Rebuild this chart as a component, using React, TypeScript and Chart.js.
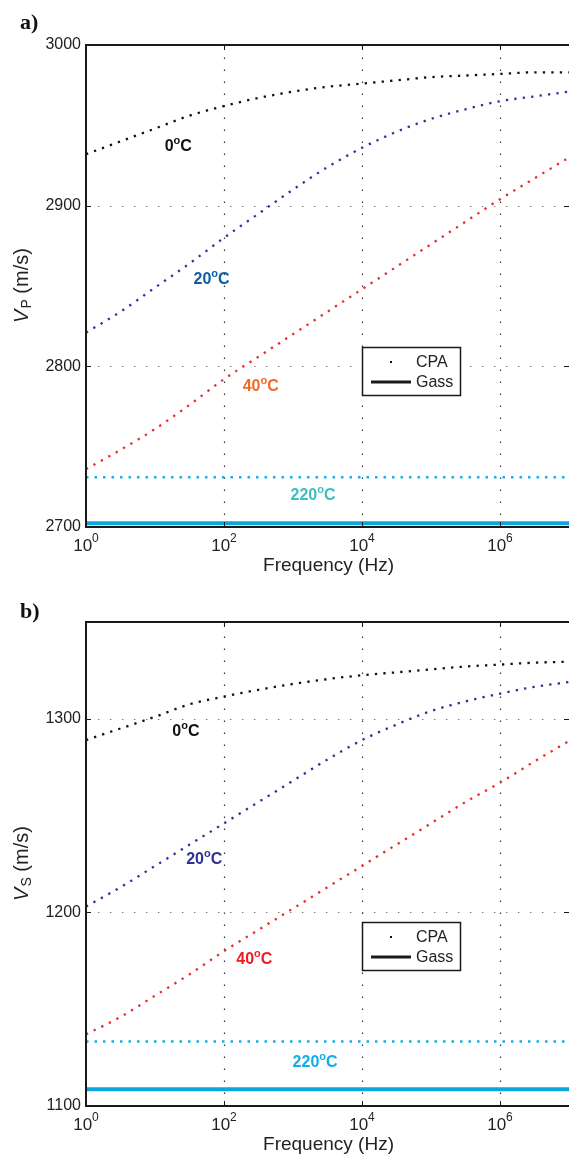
import { useEffect, useRef } from 'react';
import { Chart, registerables } from 'chart.js';

Chart.register(...registerables);

// ---------- data ----------
const FREQ_HZ = [1, 3.16, 10, 31.6, 100, 316, 1000, 3160, 1e4, 3.16e4, 1e5, 3.16e5, 1e6, 3.16e6, 1e7];
const FREQ_ENDS = [1, 1e7];
const X_TICKS = [1, 100, 1e4, 1e6];
const X_TICK_EXPONENTS = ['0', '2', '4', '6'];

// Panel a) P-wave velocity (m/s)
const VP_CPA_0C = [2932, 2940, 2948, 2956, 2962, 2967, 2971, 2974, 2976, 2978, 2980, 2981, 2982, 2983, 2983];
const VP_CPA_20C = [2821, 2834, 2849, 2864, 2880, 2895, 2910, 2924, 2936, 2946, 2954, 2960, 2965, 2968, 2971];
const VP_CPA_40C = [2736, 2748, 2761, 2776, 2792, 2806, 2820, 2834, 2848, 2862, 2876, 2890, 2904, 2917, 2930];
const VP_CPA_220C = [2731, 2731];
const VP_GASS_220C = [2702.3, 2702.3];
const VP_TICKS = [2700, 2800, 2900, 3000];

// Panel b) S-wave velocity (m/s)
const VS_CPA_0C = [1289, 1295, 1301, 1307.5, 1311.5, 1315, 1318, 1320.5, 1322.5, 1324, 1325.5, 1327, 1328, 1329, 1329.5];
const VS_CPA_20C = [1203, 1213, 1224, 1235, 1246, 1257, 1268, 1279, 1289, 1297, 1304, 1309, 1313, 1316.5, 1319];
const VS_CPA_40C = [1137, 1146, 1157, 1168, 1180, 1191, 1202, 1213, 1224, 1235, 1246, 1257, 1267, 1278, 1288.5];
const VS_CPA_220C = [1133.3, 1133.3];
const VS_GASS_220C = [1108.6, 1108.6];
const VS_TICKS = [1100, 1200, 1300];

const TEMP_LABELS = ['0', '20', '40', '220'];
// label anchor positions (frequency, velocity)
const VP_LABEL_FREQ = [21.7, 66, 341, 1950];
const VP_LABEL_VEL = [2936.7, 2853.8, 2787.3, 2719.3];
const VS_LABEL_FREQ = [28, 51.7, 275, 2090];
const VS_LABEL_VEL = [1293.2, 1227.1, 1175.5, 1122.2];

const LEGEND_LABELS = ['CPA', 'Gass'];

// ---------- styling ----------
const SANS = '"Liberation Sans", Arial, Helvetica, sans-serif';
const SERIF = '"Liberation Serif", "Times New Roman", serif';
const W = 569;
const H = 577;

type PanelDef = {
  letter: string;
  sub: string;
  yMin: number;
  yMax: number;
  yTicks: number[];
  cpa: number[][];
  cpa220: number[];
  gass220: number[];
  curveColors: string[];
  labelFreq: number[];
  labelVel: number[];
  labelColors: string[];
  letterY: number;
  xAxisHeight: number;
  legendTop: number;
};

const PANELS: PanelDef[] = [
  {
    letter: 'a)',
    sub: 'P',
    yMin: 2700,
    yMax: 3000,
    yTicks: VP_TICKS,
    cpa: [VP_CPA_0C, VP_CPA_20C, VP_CPA_40C],
    cpa220: VP_CPA_220C,
    gass220: VP_GASS_220C,
    curveColors: ['#111111', '#34339a', '#ee2a2a'],
    labelFreq: VP_LABEL_FREQ,
    labelVel: VP_LABEL_VEL,
    labelColors: ['#111111', '#0b5fa8', '#f26a2a', '#3cc0c0'],
    letterY: 23,
    xAxisHeight: 50,
    legendTop: 347,
  },
  {
    letter: 'b)',
    sub: 'S',
    yMin: 1100,
    yMax: 1350,
    yTicks: VS_TICKS,
    cpa: [VS_CPA_0C, VS_CPA_20C, VS_CPA_40C],
    cpa220: VS_CPA_220C,
    gass220: VS_GASS_220C,
    curveColors: ['#111111', '#2e3192', '#ee2a2a'],
    labelFreq: VS_LABEL_FREQ,
    labelVel: VS_LABEL_VEL,
    labelColors: ['#111111', '#2e3192', '#ee1c25', '#12aee8'],
    letterY: 35,
    xAxisHeight: 48,
    legendTop: 345,
  },
];

function drawSupText(
  ctx: CanvasRenderingContext2D,
  cx: number,
  cy: number,
  base: string,
  sup: string,
  tail: string,
  size: number,
  supSize: number,
  weight: string,
  color: string,
  raise: number
) {
  ctx.save();
  ctx.fillStyle = color;
  ctx.textBaseline = 'middle';
  ctx.textAlign = 'left';
  const f1 = `${weight} ${size}px ${SANS}`;
  const f2 = `${weight} ${supSize}px ${SANS}`;
  ctx.font = f1;
  const w1 = ctx.measureText(base).width;
  const w3 = ctx.measureText(tail).width;
  ctx.font = f2;
  const w2 = ctx.measureText(sup).width;
  let x = cx - (w1 + w2 + w3) / 2;
  ctx.font = f1;
  ctx.fillText(base, x, cy);
  x += w1;
  ctx.font = f2;
  ctx.fillText(sup, x, cy - raise);
  x += w2;
  ctx.font = f1;
  if (tail) ctx.fillText(tail, x, cy);
  ctx.restore();
}

function makeDecor(p: PanelDef) {
  return {
    id: 'decor' + p.sub,
    beforeDatasetsDraw(chart: any) {
      const { ctx, chartArea: a, scales } = chart;
      const xs = scales.x;
      const ys = scales.y;
      ctx.save();
      ctx.strokeStyle = '#333';
      ctx.lineWidth = 1.2;
      ctx.setLineDash([1.4, 10.6]);
      X_TICKS.forEach((v) => {
        if (v === 1) return;
        const x = Math.round(xs.getPixelForValue(v)) + 0.5;
        ctx.beginPath();
        ctx.moveTo(x, a.bottom);
        ctx.lineTo(x, a.top);
        ctx.stroke();
      });
      ctx.strokeStyle = '#777';
      ctx.lineWidth = 1;
      p.yTicks.forEach((v) => {
        if (v === p.yMin || v === p.yMax) return;
        const y = Math.round(ys.getPixelForValue(v)) + 0.5;
        ctx.beginPath();
        ctx.moveTo(a.left, y);
        ctx.lineTo(a.right, y);
        ctx.stroke();
      });
      ctx.restore();
    },
    afterDatasetsDraw(chart: any) {
      const { ctx, chartArea: a, scales } = chart;
      const xs = scales.x;
      const ys = scales.y;
      ctx.save();
      // axes box
      ctx.strokeStyle = '#1a1a1a';
      ctx.lineWidth = 2;
      ctx.beginPath();
      ctx.moveTo(a.right + 2, a.top);
      ctx.lineTo(a.left, a.top);
      ctx.lineTo(a.left, a.bottom);
      ctx.lineTo(a.right + 2, a.bottom);
      ctx.stroke();
      // tick marks (inside)
      ctx.lineWidth = 1;
      ctx.beginPath();
      X_TICKS.forEach((v) => {
        if (v === 1) return;
        const x = Math.round(xs.getPixelForValue(v)) + 0.5;
        ctx.moveTo(x, a.bottom);
        ctx.lineTo(x, a.bottom - 5);
        ctx.moveTo(x, a.top);
        ctx.lineTo(x, a.top + 5);
      });
      p.yTicks.forEach((v) => {
        if (v === p.yMin || v === p.yMax) return;
        const y = Math.round(ys.getPixelForValue(v)) + 0.5;
        ctx.moveTo(a.left, y);
        ctx.lineTo(a.left + 5, y);
        ctx.moveTo(a.right, y);
        ctx.lineTo(a.right - 5, y);
      });
      ctx.stroke();
      ctx.restore();

      // x tick labels 10^k
      X_TICKS.forEach((v, i) => {
        const x = xs.getPixelForValue(v);
        drawSupText(ctx, x, a.bottom + 19, '10', X_TICK_EXPONENTS[i], '', 17, 12, 'normal', '#222', 7);
      });

      // x title
      ctx.save();
      ctx.fillStyle = '#222';
      ctx.font = `19px ${SANS}`;
      ctx.textAlign = 'center';
      ctx.textBaseline = 'middle';
      ctx.fillText('Frequency (Hz)', (a.left + a.right) / 2 + 1, a.bottom + 39);
      ctx.restore();

      // y title: V_P (m/s)
      ctx.save();
      ctx.translate(22, (a.top + a.bottom) / 2);
      ctx.rotate(-Math.PI / 2);
      ctx.fillStyle = '#222';
      ctx.textBaseline = 'middle';
      ctx.textAlign = 'left';
      const fV = `italic 20px ${SANS}`;
      const fS = `14px ${SANS}`;
      const fR = `20px ${SANS}`;
      ctx.font = fV;
      const wV = ctx.measureText('V').width;
      ctx.font = fS;
      const wS = ctx.measureText(p.sub).width;
      ctx.font = fR;
      const rest = ' (m/s)';
      const wR = ctx.measureText(rest).width;
      let tx = -(wV + wS + wR) / 2;
      ctx.font = fV;
      ctx.fillText('V', tx, 0);
      tx += wV + 1;
      ctx.font = fS;
      ctx.fillText(p.sub, tx, 5);
      tx += wS;
      ctx.font = fR;
      ctx.fillText(rest, tx, 0);
      ctx.restore();

      // panel letter
      ctx.save();
      ctx.fillStyle = '#111';
      ctx.font = `bold 22px ${SERIF}`;
      ctx.textBaseline = 'middle';
      ctx.textAlign = 'left';
      ctx.fillText(p.letter, 20, p.letterY);
      ctx.restore();

      // temperature labels
      TEMP_LABELS.forEach((t, i) => {
        const x = xs.getPixelForValue(p.labelFreq[i]);
        const y = ys.getPixelForValue(p.labelVel[i]);
        drawSupText(ctx, x, y, t, 'o', 'C', 16, 11, 'bold', p.labelColors[i], 6);
      });

      // legend box
      const lx = 362;
      const ly = p.legendTop;
      const lw = 98;
      const lh = 48;
      ctx.save();
      ctx.fillStyle = '#fff';
      ctx.fillRect(lx, ly, lw, lh);
      ctx.strokeStyle = '#1a1a1a';
      ctx.lineWidth = 1.5;
      ctx.strokeRect(lx + 0.5, ly + 0.5, lw, lh);
      ctx.fillStyle = '#111';
      ctx.fillRect(lx + 28, ly + 14, 2, 2);
      ctx.lineWidth = 3;
      ctx.beginPath();
      ctx.moveTo(lx + 9, ly + 35);
      ctx.lineTo(lx + 49, ly + 35);
      ctx.stroke();
      ctx.fillStyle = '#222';
      ctx.font = `16px ${SANS}`;
      ctx.textBaseline = 'middle';
      ctx.textAlign = 'left';
      ctx.fillText(LEGEND_LABELS[0], lx + 54, ly + 16);
      ctx.fillText(LEGEND_LABELS[1], lx + 54, ly + 36);
      ctx.restore();
    },
  };
}

function buildConfig(p: PanelDef): any {
  const dotted = (vals: number[], color: string) => ({
    data: FREQ_HZ.map((f, i) => ({ x: f, y: vals[i] })),
    borderColor: color,
    borderWidth: 2.3,
    borderDash: [2.3, 6.2],
    borderCapStyle: 'butt',
    pointRadius: 0,
    cubicInterpolationMode: 'monotone',
    fill: false,
  });
  const datasets: any[] = p.cpa.map((vals, i) => dotted(vals, p.curveColors[i]));
  datasets.push({
    data: FREQ_ENDS.map((f, i) => ({ x: f, y: p.cpa220[i] })),
    borderColor: '#16afe6',
    borderWidth: 2.5,
    borderDash: [2.5, 6],
    pointRadius: 0,
    fill: false,
  });
  datasets.push({
    data: FREQ_ENDS.map((f, i) => ({ x: f, y: p.gass220[i] })),
    borderColor: '#0ba6df',
    borderWidth: 4,
    pointRadius: 0,
    fill: false,
  });
  return {
    type: 'line',
    data: { datasets },
    options: {
      animation: false,
      responsive: false,
      devicePixelRatio: 1,
      layout: { padding: { top: 45, left: 0, right: 0, bottom: 0 } },
      plugins: { legend: { display: false }, tooltip: { enabled: false } },
      scales: {
        x: {
          type: 'logarithmic',
          min: 1,
          max: 1e7,
          ticks: { display: false },
          grid: { display: false, drawTicks: false },
          border: { display: false },
          afterBuildTicks: (s: any) => {
            s.ticks = X_TICKS.map((v) => ({ value: v }));
          },
          afterFit: (s: any) => {
            s.height = p.xAxisHeight;
          },
        },
        y: {
          type: 'linear',
          min: p.yMin,
          max: p.yMax,
          ticks: {
            font: { family: SANS, size: 16 },
            color: '#222',
            padding: 5,
            callback: (v: any) => String(v),
          },
          grid: { display: false, drawTicks: false },
          border: { display: false },
          afterBuildTicks: (s: any) => {
            s.ticks = p.yTicks.map((v) => ({ value: v }));
          },
          afterFit: (s: any) => {
            s.width = 86;
          },
        },
      },
    },
    plugins: [makeDecor(p)],
  };
}

function Panel({ p, top }: { p: PanelDef; top: number }) {
  const ref = useRef<HTMLCanvasElement>(null);
  useEffect(() => {
    const chart = new Chart(ref.current as HTMLCanvasElement, buildConfig(p));
    return () => chart.destroy();
  }, [p]);
  return (
    <canvas
      ref={ref}
      width={W}
      height={H}
      style={{ position: 'absolute', left: 0, top, width: W, height: H, display: 'block' }}
    />
  );
}

export default function App() {
  return (
    <div style={{ position: 'absolute', left: 0, top: 0, width: W, height: 1154, background: '#fff', overflow: 'hidden' }}>
      <Panel p={PANELS[0]} top={0} />
      <Panel p={PANELS[1]} top={577} />
    </div>
  );
}
